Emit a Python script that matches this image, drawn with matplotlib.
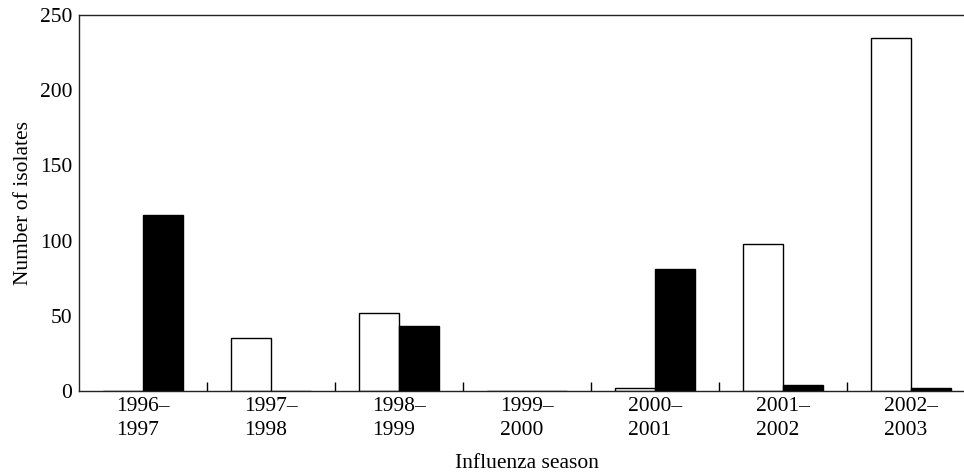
import matplotlib
matplotlib.use("Agg")
import matplotlib.pyplot as plt
import numpy as np

# isolates per influenza season
seasons = ["1996–\n1997", "1997–\n1998", "1998–\n1999", "1999–\n2000",
           "2000–\n2001", "2001–\n2002", "2002–\n2003"]
white_counts = [0, 35, 52, 0, 2, 98, 235]
black_counts = [117, 0, 43, 0, 81, 4, 2]

plt.rcParams['font.family'] = ['Liberation Serif', 'DejaVu Serif']
plt.rcParams['font.size'] = 15.5

fig = plt.figure(figsize=(9.64, 4.73), dpi=100)
ax = fig.add_axes([79 / 964, 1 - 391 / 473, 896 / 964, 376 / 473])

x = np.arange(len(seasons))
w = 0.31
ax.bar(x - w / 2, white_counts, w, color="white", edgecolor="black", linewidth=1.0)
ax.bar(x + w / 2, black_counts, w, color="black", edgecolor="black", linewidth=1.0)

ax.set_xlim(-0.5, len(seasons) - 0.5)
ax.set_ylim(0, 250)
ax.set_yticks([0, 50, 100, 150, 200, 250])

ax.set_xticks(x)
ax.set_xticklabels(seasons, multialignment="left", linespacing=1.4)
ax.set_xticks(np.arange(0.5, len(seasons) - 1, 1.0), minor=True)
ax.tick_params(axis="x", which="major", length=0, pad=4)
ax.tick_params(axis="x", which="minor", direction="in", length=6.5, width=1.0)
ax.tick_params(axis="y", length=0, pad=5)

ax.spines["right"].set_visible(False)
for s in ["left", "top", "bottom"]:
    ax.spines[s].set_linewidth(1.0)
    ax.spines[s].set_color("#222222")

ax.set_xlabel("Influenza season", labelpad=10)
ax.set_ylabel("Number of isolates", labelpad=5)

fig.savefig("out.png", dpi=100)
